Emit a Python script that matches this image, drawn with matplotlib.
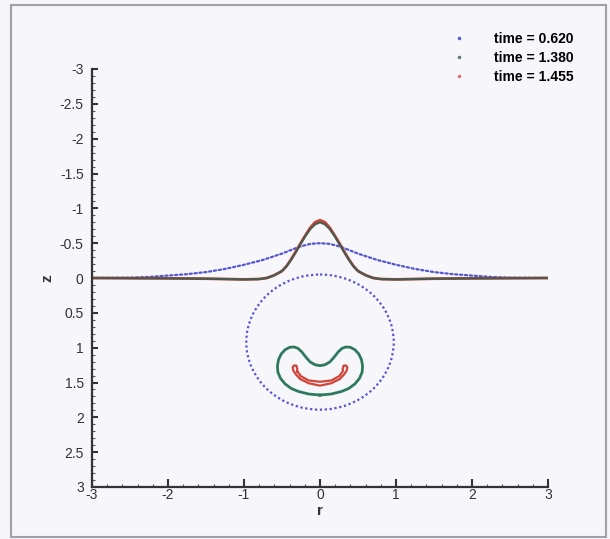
import matplotlib
matplotlib.use("Agg")
import matplotlib.pyplot as plt
from matplotlib.patches import Circle, Rectangle
from matplotlib.lines import Line2D
from matplotlib.ticker import MultipleLocator

plt.rcParams['font.family'] = ['Liberation Sans', 'DejaVu Sans']
plt.rcParams['axes.unicode_minus'] = False

labels = ["time = 0.620", "time = 1.380", "time = 1.455"]

# free surface, t = 0.620
r_surf1 = [-3, -2.5, -2.25, -2, -1.75, -1.5, -1.25, -1, -0.875, -0.75, -0.625, -0.5, -0.375, -0.25, -0.125, 0,
           0.125, 0.25, 0.375, 0.5, 0.625, 0.75, 0.875, 1, 1.25, 1.5, 1.75, 2, 2.25, 2.5, 3]
z_surf1 = [0, -0.005, -0.015, -0.035, -0.055, -0.085, -0.13, -0.19, -0.225, -0.26, -0.305, -0.35, -0.405, -0.455, -0.49, -0.5,
           -0.49, -0.455, -0.405, -0.35, -0.305, -0.26, -0.225, -0.19, -0.13, -0.085, -0.055, -0.035, -0.015, -0.005, 0]
# bubble at t = 0.620 (centre and radius)
bub1_r, bub1_z, bub1_rad = 0.0, 0.92, 0.97

# free surface, t = 1.380
r_surf2 = [-3, -2, -1.5, -1, -0.8, -0.7, -0.6, -0.5, -0.44, -0.38, -0.33, -0.26, -0.2, -0.13, -0.066, 0,
           0.066, 0.13, 0.2, 0.26, 0.33, 0.38, 0.44, 0.5, 0.6, 0.7, 0.8, 1, 1.5, 2, 3]
z_surf2 = [0, 0.005, 0.01, 0.02, 0.015, 0.0, -0.04, -0.1, -0.17, -0.26, -0.35, -0.48, -0.59, -0.7, -0.77, -0.8,
           -0.77, -0.7, -0.59, -0.48, -0.35, -0.26, -0.17, -0.1, -0.04, 0.0, 0.015, 0.02, 0.01, 0.005, 0]
# bubble at t = 1.380
r_bub2 = [0, -0.15, -0.28, -0.38, -0.46, -0.52, -0.555, -0.56, -0.545, -0.51, -0.46, -0.40, -0.34, -0.29, -0.24, -0.19,
          -0.13, -0.065, 0, 0.065, 0.13, 0.19, 0.24, 0.29, 0.34, 0.40, 0.46, 0.51, 0.545, 0.56, 0.555, 0.52, 0.46, 0.38,
          0.28, 0.15, 0]
z_bub2 = [1.68, 1.665, 1.63, 1.585, 1.52, 1.44, 1.35, 1.26, 1.17, 1.09, 1.03, 0.995, 0.99, 1.01, 1.06, 1.13,
          1.205, 1.245, 1.258, 1.245, 1.205, 1.13, 1.06, 1.01, 0.99, 0.995, 1.03, 1.09, 1.17, 1.26, 1.35, 1.44, 1.52, 1.585,
          1.63, 1.665, 1.68]

# free surface, t = 1.455
r_surf3 = r_surf2
z_surf3 = [0, 0.005, 0.01, 0.02, 0.015, 0.0, -0.04, -0.1, -0.17, -0.27, -0.36, -0.49, -0.6, -0.72, -0.8, -0.83,
           -0.8, -0.72, -0.6, -0.49, -0.36, -0.27, -0.17, -0.1, -0.04, 0.0, 0.015, 0.02, 0.01, 0.005, 0]
# bubble at t = 1.455
r_bub3 = [-0.3, -0.3, -0.31, -0.34, -0.36, -0.35, -0.32, -0.26, -0.15, 0, 0.15, 0.26, 0.32, 0.35, 0.36, 0.34,
          0.31, 0.3, 0.3, 0.25, 0.15, 0, -0.15, -0.25, -0.3]
z_bub3 = [1.34, 1.30, 1.26, 1.255, 1.28, 1.33, 1.38, 1.45, 1.51, 1.545, 1.51, 1.45, 1.38, 1.33, 1.28, 1.255,
          1.26, 1.30, 1.34, 1.41, 1.47, 1.49, 1.47, 1.41, 1.34]

blue = '#5555d4'
green = '#2f7a5c'
green_s = '#4a5a4c'
red = '#d0453a'

fig = plt.figure(figsize=(6.1, 5.39), dpi=100, facecolor='#f6f6fb')
ax = fig.add_axes([92 / 610, 52 / 539, 456 / 610, 418 / 539])
ax.set_facecolor('none')

dots = (0, (1, 1.2))
ax.plot(r_surf1, z_surf1, color=blue, lw=1.6, linestyle=dots, dash_capstyle='round')
ax.add_patch(Circle((bub1_r, bub1_z), bub1_rad, fill=False, edgecolor=blue, lw=1.6, linestyle=dots))
ax.plot(r_surf3, z_surf3, color=red, lw=2.0)
ax.plot(r_surf2, z_surf2, color=green_s, lw=1.6)
ax.plot(r_bub2, z_bub2, color=green, lw=2.0)
ax.plot(r_bub3, z_bub3, color=red, lw=1.6)

ax.set_xlim(-3, 3)
ax.set_ylim(3, -3)
ax.xaxis.set_major_locator(MultipleLocator(1))
ax.xaxis.set_minor_locator(MultipleLocator(0.2))
ax.yaxis.set_major_locator(MultipleLocator(0.5))
ax.yaxis.set_minor_locator(MultipleLocator(0.1))
ax.set_yticks([-3, -2.5, -2, -1.5, -1, -0.5, 0, 0.5, 1, 1.5, 2, 2.5, 3])
ax.set_yticklabels(["-3", "-2.5", "-2", "-1.5", "-1", "-0.5", "0", "0.5", "1", "1.5", "2", "2.5", "3"])

for s in ['top', 'right']:
    ax.spines[s].set_visible(False)
for s in ['left', 'bottom']:
    ax.spines[s].set_color('#333333')
    ax.spines[s].set_linewidth(1.6)

ax.tick_params(axis='x', which='major', direction='in', length=6, width=1.5, color='#333333',
               labelsize=10, labelcolor='#333333', pad=1)
ax.tick_params(axis='x', which='minor', direction='in', length=2.5, width=0.8, color='#555555')
ax.tick_params(axis='y', which='major', direction='in', length=4, width=1.5, color='#333333',
               labelsize=10, labelcolor='#333333', pad=6)
ax.tick_params(axis='y', which='minor', direction='in', length=2.5, width=0.8, color='#555555')

ax.set_xlabel("r", fontsize=11, fontweight='bold', color='#333333', labelpad=1)
ax.set_ylabel("z", fontsize=11, fontweight='bold', color='#333333', labelpad=4)

handles = [Line2D([], [], marker='.', markersize=3, linestyle='none', color=c) for c in [blue, '#5f7a66', '#e07070']]
fig.legend(handles, labels, loc='upper left', bbox_to_anchor=(452 / 610, 1 - 32 / 539), frameon=False,
           prop={'weight': 'bold', 'size': 10}, handlelength=1, handletextpad=2.0, labelspacing=0.35,
           borderaxespad=0, borderpad=0)

fig.patches.append(Rectangle((11 / 610, 2 / 539), 595 / 610, 532 / 539, transform=fig.transFigure,
                             fill=False, edgecolor='#a0a0a8', lw=1.5))

fig.savefig("out.png", dpi=100, facecolor=fig.get_facecolor())
